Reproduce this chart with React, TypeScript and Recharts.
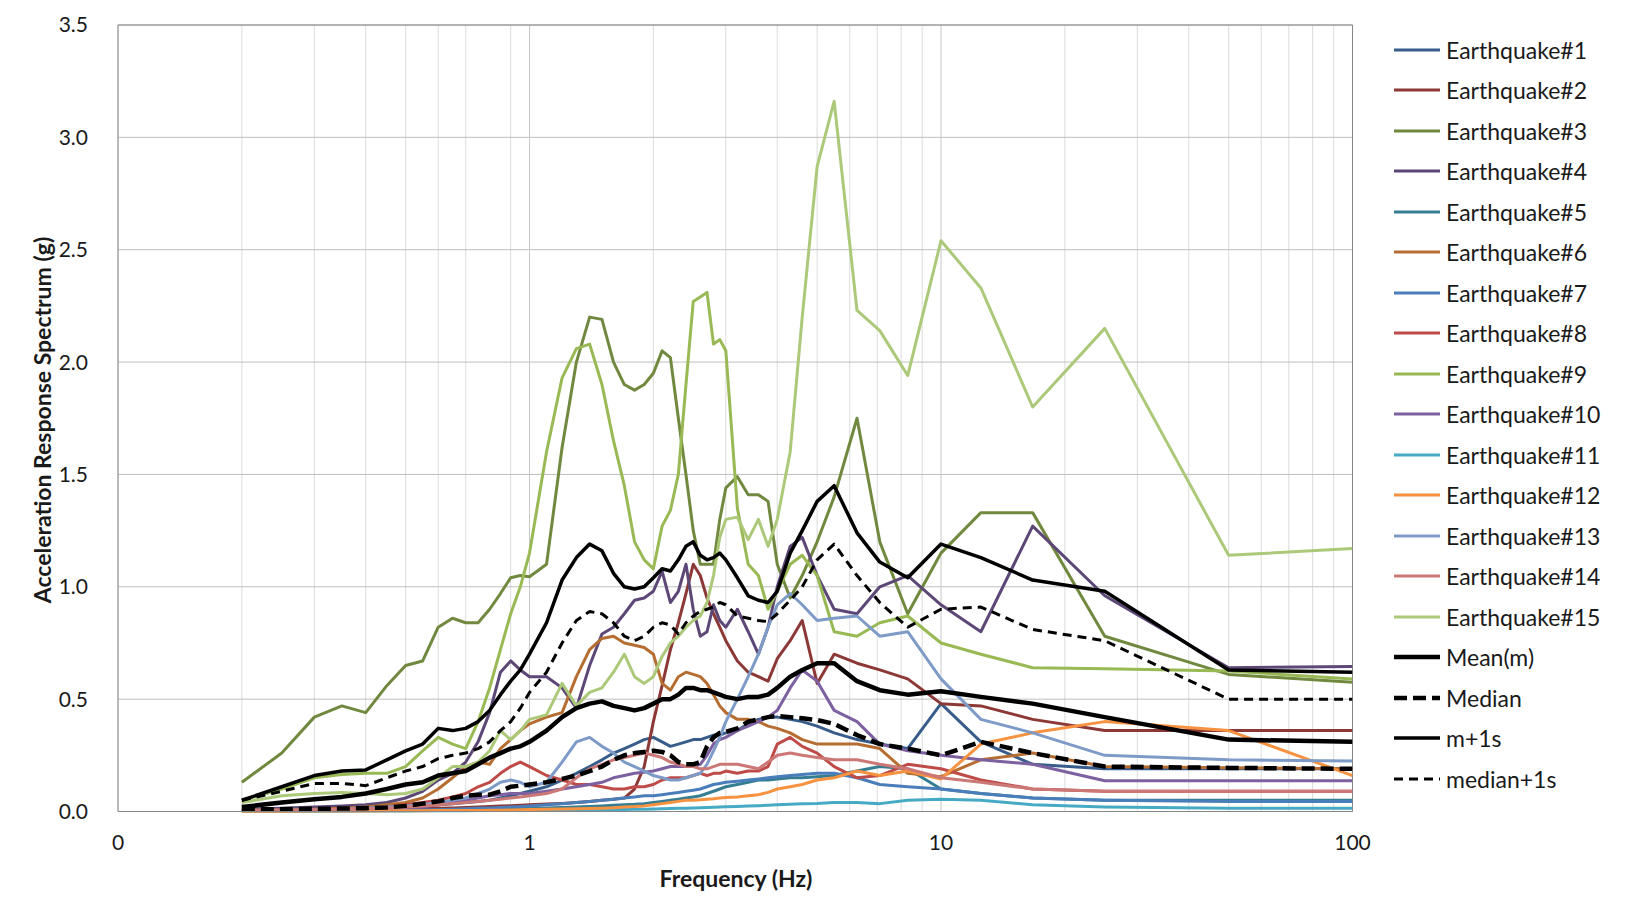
import {
  LineChart,
  Line,
  XAxis,
  YAxis,
  CartesianGrid,
  ReferenceLine,
  Legend,
} from "recharts";

// frequencies (Hz) shared by every spectrum
const FREQ = [
  0.2, 0.25, 0.3, 0.35, 0.4, 0.45, 0.5, 0.55, 0.6, 0.65,
  0.7, 0.75, 0.8, 0.85, 0.9, 0.95, 1.0, 1.1, 1.2, 1.3,
  1.4, 1.5, 1.6, 1.7, 1.8, 1.9, 2.0, 2.1, 2.2, 2.3,
  2.4, 2.5, 2.6, 2.7, 2.8, 2.9, 3.0, 3.2, 3.4, 3.6,
  3.8, 4.0, 4.3, 4.6, 5.0, 5.5, 6.25, 7.1, 8.3, 10,
  12.5, 16.7, 25, 50, 100,
];

const EQ1 = [
  0.005, 0.006, 0.008, 0.01, 0.012, 0.015, 0.02, 0.025, 0.03, 0.035,
  0.04, 0.045, 0.05, 0.06, 0.07, 0.08, 0.09, 0.11, 0.14, 0.17,
  0.2, 0.23, 0.26, 0.28, 0.3, 0.32, 0.33, 0.31, 0.29, 0.3,
  0.31, 0.32, 0.32, 0.33, 0.34, 0.34, 0.35, 0.36, 0.39, 0.41,
  0.42, 0.42, 0.41, 0.4, 0.38, 0.35, 0.32, 0.3, 0.28, 0.48,
  0.31, 0.21, 0.19, 0.19, 0.19,
];
const EQ2 = [
  0.003, 0.004, 0.005, 0.006, 0.007, 0.008, 0.01, 0.012, 0.014, 0.016,
  0.018, 0.02, 0.022, 0.024, 0.026, 0.028, 0.03, 0.033, 0.036, 0.04,
  0.045, 0.05, 0.055, 0.06, 0.1, 0.2, 0.4, 0.56, 0.72, 0.84,
  0.97, 1.1, 1.05, 0.95, 0.88, 0.82, 0.76, 0.67, 0.62, 0.6,
  0.58, 0.68, 0.76, 0.85, 0.57, 0.7, 0.66, 0.63, 0.59, 0.48,
  0.47, 0.41, 0.36, 0.36, 0.36,
];
const EQ3 = [
  0.13, 0.26, 0.42, 0.47, 0.44, 0.56, 0.65, 0.67, 0.82, 0.86,
  0.84, 0.84, 0.9, 0.97, 1.04, 1.05, 1.045, 1.1, 1.62, 2.0,
  2.2, 2.19, 2.0, 1.9, 1.875, 1.9, 1.95, 2.05, 2.02, 1.75,
  1.5, 1.25, 1.1, 1.1, 1.1, 1.3, 1.44, 1.49, 1.41, 1.41,
  1.38, 1.1, 0.95, 1.05, 1.2, 1.4, 1.75, 1.2, 0.88, 1.15,
  1.33, 1.33, 0.78, 0.61, 0.575,
];
const EQ4 = [
  0.01, 0.015, 0.02, 0.025, 0.03, 0.04, 0.06, 0.09, 0.14, 0.17,
  0.22, 0.31, 0.44, 0.62, 0.67, 0.63, 0.6, 0.6, 0.55, 0.46,
  0.65, 0.79, 0.82, 0.88, 0.94, 0.95, 0.98, 1.07, 0.93, 0.98,
  1.1, 0.9, 0.78, 0.8, 0.92, 0.85, 0.82, 0.9, 0.8, 0.7,
  0.82, 1.0, 1.18, 1.22, 1.05, 0.9, 0.88, 1.0, 1.05, 0.92,
  0.8, 1.27, 0.96, 0.64, 0.645,
];
const EQ5 = [
  0.002, 0.002, 0.003, 0.003, 0.004, 0.004, 0.005, 0.005, 0.006, 0.007,
  0.008, 0.009, 0.01, 0.011, 0.012, 0.013, 0.014, 0.016, 0.018, 0.02,
  0.022, 0.025, 0.028, 0.03, 0.032, 0.035, 0.04, 0.045, 0.05, 0.055,
  0.06, 0.065, 0.07, 0.08, 0.09, 0.1, 0.11, 0.12, 0.13, 0.14,
  0.14, 0.145, 0.15, 0.15, 0.155, 0.16, 0.18, 0.2, 0.19, 0.1,
  0.08, 0.06, 0.05, 0.05, 0.05,
];
const EQ6 = [
  0.005, 0.007, 0.01, 0.015, 0.02, 0.03, 0.04, 0.06, 0.1, 0.15,
  0.2, 0.22, 0.21, 0.28, 0.32, 0.36, 0.39, 0.42, 0.44, 0.6,
  0.72, 0.77, 0.78, 0.75, 0.74, 0.73, 0.7, 0.57, 0.54, 0.6,
  0.62, 0.61, 0.6, 0.57, 0.52, 0.47, 0.44, 0.41, 0.41, 0.4,
  0.38, 0.37, 0.35, 0.32, 0.3, 0.3, 0.3, 0.28, 0.17, 0.155,
  0.23, 0.26, 0.2, 0.195, 0.19,
];
const EQ7 = [
  0.002, 0.002, 0.003, 0.003, 0.004, 0.005, 0.006, 0.007, 0.008, 0.01,
  0.012, 0.014, 0.016, 0.018, 0.02, 0.022, 0.025, 0.03, 0.035, 0.04,
  0.045, 0.05, 0.055, 0.06, 0.065, 0.07, 0.07, 0.075, 0.08, 0.085,
  0.09, 0.095, 0.1, 0.11, 0.12, 0.125, 0.13, 0.135, 0.14, 0.145,
  0.15, 0.155, 0.16, 0.165, 0.17, 0.17, 0.15, 0.12, 0.11, 0.1,
  0.08, 0.06, 0.05, 0.045, 0.045,
];
const EQ8 = [
  0.005, 0.006, 0.008, 0.01, 0.015, 0.02, 0.03, 0.04, 0.05, 0.065,
  0.08, 0.11, 0.13, 0.17, 0.2, 0.22, 0.2, 0.16, 0.14, 0.12,
  0.12, 0.11, 0.1, 0.1, 0.11, 0.11, 0.12, 0.14, 0.15, 0.15,
  0.15, 0.16, 0.17, 0.16, 0.17, 0.17, 0.18, 0.17, 0.18, 0.18,
  0.2, 0.3, 0.33, 0.29, 0.26, 0.2, 0.15, 0.16, 0.21, 0.19,
  0.14, 0.1, 0.09, 0.09, 0.09,
];
const EQ9 = [
  0.05, 0.1, 0.15, 0.165, 0.17, 0.17, 0.2, 0.27, 0.33, 0.3,
  0.28, 0.4, 0.55, 0.72, 0.88, 1.0, 1.15, 1.6, 1.93, 2.06,
  2.08, 1.9, 1.65, 1.45, 1.2, 1.12, 1.08, 1.27, 1.34, 1.5,
  1.9, 2.27, 2.29, 2.31, 2.08, 2.1, 2.05, 1.35, 1.1, 1.05,
  0.9, 0.98, 1.1, 1.14, 1.05, 0.8, 0.78, 0.84, 0.87, 0.75,
  0.7, 0.64, 0.635, 0.625, 0.59,
];
const EQ10 = [
  0.003, 0.004, 0.005, 0.007, 0.01, 0.012, 0.015, 0.02, 0.03, 0.04,
  0.05, 0.06, 0.07, 0.075, 0.08, 0.08, 0.08, 0.09, 0.1, 0.11,
  0.12, 0.13, 0.15, 0.16, 0.17, 0.175, 0.18, 0.19, 0.2, 0.2,
  0.2, 0.2, 0.21, 0.25, 0.3, 0.32, 0.33, 0.36, 0.38, 0.4,
  0.42, 0.45, 0.55, 0.63, 0.58, 0.45, 0.4, 0.3, 0.27, 0.25,
  0.23, 0.21, 0.137, 0.137, 0.137,
];
const EQ11 = [
  0.001, 0.001, 0.001, 0.002, 0.002, 0.002, 0.002, 0.003, 0.003, 0.003,
  0.003, 0.004, 0.004, 0.004, 0.005, 0.005, 0.005, 0.006, 0.006, 0.007,
  0.007, 0.008, 0.008, 0.009, 0.01, 0.01, 0.011, 0.012, 0.013, 0.014,
  0.015, 0.016, 0.017, 0.018, 0.019, 0.02, 0.021, 0.022, 0.024, 0.026,
  0.028, 0.03, 0.032, 0.034, 0.036, 0.04, 0.04, 0.035, 0.05, 0.055,
  0.05, 0.03, 0.02, 0.015, 0.015,
];
const EQ12 = [
  0.001, 0.001, 0.002, 0.002, 0.002, 0.003, 0.003, 0.003, 0.004, 0.004,
  0.005, 0.005, 0.006, 0.006, 0.007, 0.008, 0.009, 0.01, 0.011, 0.012,
  0.013, 0.015, 0.017, 0.02, 0.022, 0.025, 0.03, 0.035, 0.04, 0.045,
  0.05, 0.05, 0.052, 0.055, 0.057, 0.06, 0.062, 0.065, 0.07, 0.075,
  0.085, 0.1, 0.11, 0.12, 0.14, 0.15, 0.18, 0.16, 0.18, 0.145,
  0.3, 0.35, 0.4, 0.36, 0.16,
];
const EQ13 = [
  0.005, 0.006, 0.008, 0.01, 0.015, 0.02, 0.025, 0.03, 0.04, 0.05,
  0.06, 0.08, 0.1, 0.13, 0.14, 0.13, 0.11, 0.13, 0.22, 0.31,
  0.33, 0.29, 0.26, 0.22, 0.2, 0.18, 0.16, 0.15, 0.14, 0.14,
  0.15, 0.16, 0.17, 0.21, 0.27, 0.33, 0.4, 0.5, 0.6, 0.7,
  0.82, 0.92, 0.97, 0.92, 0.85, 0.86, 0.87, 0.78, 0.8, 0.59,
  0.41, 0.35, 0.25, 0.23, 0.225,
];
const EQ14 = [
  0.005, 0.006, 0.008, 0.01, 0.012, 0.015, 0.02, 0.025, 0.03, 0.035,
  0.04, 0.045, 0.05, 0.055, 0.06, 0.065, 0.07, 0.08, 0.1, 0.15,
  0.19, 0.21, 0.23, 0.24, 0.25, 0.26, 0.25, 0.24, 0.22, 0.21,
  0.2, 0.2, 0.19, 0.19, 0.2, 0.21, 0.21, 0.21, 0.2, 0.19,
  0.22, 0.25, 0.26, 0.25, 0.24, 0.23, 0.23, 0.21, 0.19, 0.15,
  0.13, 0.1, 0.09, 0.09, 0.09,
];
const EQ15 = [
  0.04, 0.07, 0.08, 0.085, 0.08, 0.075, 0.08, 0.1, 0.15, 0.2,
  0.2, 0.22, 0.27, 0.36, 0.32, 0.36, 0.41, 0.43, 0.57, 0.47,
  0.53, 0.55, 0.62, 0.7, 0.6, 0.57, 0.6, 0.69, 0.75, 0.78,
  0.82, 0.85, 0.87, 0.93, 1.05, 1.22, 1.3, 1.31, 1.21, 1.3,
  1.18, 1.3, 1.6, 2.2, 2.87, 3.16, 2.23, 2.14, 1.94, 2.54,
  2.33, 1.8, 2.15, 1.14, 1.17,
];
const MEAN = [
  0.02, 0.04, 0.055, 0.065, 0.08, 0.1, 0.12, 0.13, 0.16, 0.17,
  0.18, 0.21, 0.24, 0.26, 0.28, 0.29, 0.31, 0.36, 0.42, 0.46,
  0.48, 0.49, 0.47, 0.46, 0.45, 0.46, 0.48, 0.5, 0.5, 0.52,
  0.55, 0.55, 0.54, 0.54, 0.53, 0.52, 0.51, 0.5, 0.51, 0.51,
  0.52, 0.55, 0.6, 0.63, 0.66, 0.66, 0.58, 0.54, 0.52, 0.535,
  0.51, 0.48, 0.42, 0.32, 0.31,
];
const MEDIAN = [
  0.01, 0.01, 0.012, 0.013, 0.015, 0.018, 0.025, 0.035, 0.045, 0.06,
  0.07, 0.075, 0.075, 0.09, 0.11, 0.115, 0.12, 0.13, 0.145, 0.16,
  0.18, 0.2, 0.23, 0.25, 0.26, 0.265, 0.27, 0.265, 0.25, 0.22,
  0.21, 0.21, 0.22, 0.29, 0.33, 0.35, 0.355, 0.37, 0.4, 0.41,
  0.42, 0.425, 0.42, 0.415, 0.407, 0.39, 0.34, 0.3, 0.28, 0.25,
  0.31, 0.26, 0.2, 0.194, 0.19,
];
const MEAN_1S = [
  0.05, 0.11, 0.16, 0.18, 0.185, 0.23, 0.27, 0.3, 0.37, 0.36,
  0.37, 0.4, 0.45, 0.52, 0.58, 0.63, 0.7, 0.84, 1.03, 1.13,
  1.19, 1.16, 1.06, 1.0, 0.99, 1.0, 1.04, 1.08, 1.07, 1.12,
  1.18, 1.2, 1.14, 1.12, 1.13, 1.15, 1.12, 1.04, 0.96, 0.94,
  0.93, 0.98, 1.15, 1.25, 1.38, 1.45, 1.24, 1.11, 1.04, 1.19,
  1.13, 1.03, 0.98, 0.63, 0.62,
];
const MEDIAN_1S = [
  0.05, 0.09, 0.125, 0.125, 0.115, 0.15, 0.18, 0.2, 0.235, 0.25,
  0.26, 0.28, 0.31, 0.36, 0.4, 0.46, 0.53, 0.62, 0.75, 0.85,
  0.89, 0.88, 0.84, 0.78, 0.76, 0.78, 0.82, 0.84, 0.83, 0.79,
  0.84, 0.87, 0.89, 0.9, 0.91, 0.93, 0.92, 0.87, 0.86, 0.85,
  0.845, 0.88, 0.94, 1.0, 1.12, 1.19, 1.05, 0.93, 0.82, 0.9,
  0.91, 0.81, 0.76, 0.5, 0.5,
];

const X_TICKS = [0.1, 1, 10, 100];
const MINOR_TICKS = [
  0.2, 0.3, 0.4, 0.5, 0.6, 0.7, 0.8, 0.9,
  2, 3, 4, 5, 6, 7, 8, 9,
  20, 30, 40, 50, 60, 70, 80, 90,
];
const Y_TICKS = [0, 0.5, 1, 1.5, 2, 2.5, 3, 3.5];

const FONT = "Lato, 'Open Sans', sans-serif";

type Series = {
  key: string;
  name: string;
  values: number[];
  color: string;
  width: number;
  dash?: string;
};

const SERIES: Series[] = [
  { key: "eq1", name: "Earthquake#1", values: EQ1, color: "#385d8a", width: 3 },
  { key: "eq2", name: "Earthquake#2", values: EQ2, color: "#8c3836", width: 3 },
  { key: "eq3", name: "Earthquake#3", values: EQ3, color: "#71893f", width: 3 },
  { key: "eq4", name: "Earthquake#4", values: EQ4, color: "#5c4776", width: 3 },
  { key: "eq5", name: "Earthquake#5", values: EQ5, color: "#357d91", width: 3 },
  { key: "eq6", name: "Earthquake#6", values: EQ6, color: "#b66d31", width: 3 },
  { key: "eq7", name: "Earthquake#7", values: EQ7, color: "#4a7ebb", width: 3 },
  { key: "eq8", name: "Earthquake#8", values: EQ8, color: "#be4b48", width: 3 },
  { key: "eq9", name: "Earthquake#9", values: EQ9, color: "#98b954", width: 3 },
  { key: "eq10", name: "Earthquake#10", values: EQ10, color: "#7d60a0", width: 3 },
  { key: "eq11", name: "Earthquake#11", values: EQ11, color: "#46aac5", width: 3 },
  { key: "eq12", name: "Earthquake#12", values: EQ12, color: "#f69240", width: 3 },
  { key: "eq13", name: "Earthquake#13", values: EQ13, color: "#7e9bc8", width: 3 },
  { key: "eq14", name: "Earthquake#14", values: EQ14, color: "#cb7876", width: 3 },
  { key: "eq15", name: "Earthquake#15", values: EQ15, color: "#acc97a", width: 3 },
  { key: "mean", name: "Mean(m)", values: MEAN, color: "#000000", width: 4.5 },
  { key: "median", name: "Median", values: MEDIAN, color: "#000000", width: 4.5, dash: "13 6" },
  { key: "m1s", name: "m+1s", values: MEAN_1S, color: "#000000", width: 3.5 },
  { key: "med1s", name: "median+1s", values: MEDIAN_1S, color: "#000000", width: 3, dash: "9 6" },
];

const rows = FREQ.map((f, i) => {
  const row: Record<string, number> = { f };
  SERIES.forEach((s) => {
    row[s.key] = s.values[i];
  });
  return row;
});

// legend drawn from the series list, one row per line
const renderLegend = () => (
  <ul style={{ listStyle: "none", margin: 0, padding: 0 }}>
    {SERIES.map((s) => (
      <li
        key={s.key}
        style={{ height: 40.5, display: "flex", alignItems: "center" }}
      >
        <svg width={48} height={10}>
          <line
            x1={1}
            y1={5}
            x2={47}
            y2={5}
            stroke={s.color}
            strokeWidth={s.width}
            strokeDasharray={s.dash}
          />
        </svg>
        <span
          style={{
            marginLeft: 5,
            fontSize: 23,
            color: "#1a1a1a",
            fontFamily: FONT,
            whiteSpace: "nowrap",
          }}
        >
          {s.name}
        </span>
      </li>
    ))}
  </ul>
);

export default function App() {
  return (
    <div
      style={{
        position: "relative",
        width: 1625,
        height: 917,
        fontFamily: FONT,
        background: "#fff",
      }}
    >
      <style>{"body{margin:0}"}</style>
      <LineChart
        width={1625}
        height={917}
        data={rows}
        margin={{ top: 25, right: 272.5, bottom: 65.5, left: 58 }}
      >
        <XAxis
          xAxisId="minor"
          dataKey="f"
          type="number"
          scale="log"
          domain={[0.1, 100]}
          ticks={MINOR_TICKS}
          allowDataOverflow
          hide
        />
        <CartesianGrid xAxisId="minor" horizontal={false} stroke="#dcdcdc" strokeWidth={1} />
        <CartesianGrid vertical={false} stroke="#bfbfbf" strokeWidth={1} />
        <XAxis
          dataKey="f"
          type="number"
          scale="log"
          domain={[0.1, 100]}
          ticks={X_TICKS}
          allowDataOverflow
          height={40}
          stroke="#868686"
          tickLine={false}
          tickSize={6}
          tickMargin={18}
          tick={{ fill: "#1a1a1a", fontSize: 21, fontFamily: FONT }}
          tickFormatter={(v: number) => (v < 1 ? "0" : String(v))}
        />
        <YAxis
          type="number"
          domain={[0, 3.5]}
          ticks={Y_TICKS}
          width={60}
          stroke="#868686"
          tickLine={false}
          tickSize={6}
          tickMargin={24}
          tick={{ fill: "#1a1a1a", fontSize: 21, fontFamily: FONT }}
          tickFormatter={(v: number) => v.toFixed(1)}
        />
        <ReferenceLine x={1} stroke="#c8c8c8" />
        <ReferenceLine x={10} stroke="#c8c8c8" />
        <ReferenceLine x={100} stroke="#868686" />
        <ReferenceLine y={3.5} stroke="#868686" />
        {SERIES.map((s) => (
          <Line
            key={s.key}
            type="linear"
            dataKey={s.key}
            name={s.name}
            stroke={s.color}
            strokeWidth={s.width}
            strokeDasharray={s.dash}
            strokeLinejoin="round"
            dot={false}
            activeDot={false}
            isAnimationActive={false}
          />
        ))}
        <Legend
          layout="vertical"
          align="center"
          verticalAlign="middle"
          wrapperStyle={{ left: 1393, top: 29.5, width: 232 }}
          content={renderLegend}
        />
      </LineChart>
      <div
        style={{
          position: "absolute",
          left: 736,
          top: 878,
          transform: "translate(-50%, -50%)",
          fontSize: 23,
          fontWeight: 700,
          color: "#1a1a1a",
          whiteSpace: "nowrap",
        }}
      >
        Frequency (Hz)
      </div>
      <div
        style={{
          position: "absolute",
          left: 41.5,
          top: 420,
          transform: "translate(-50%, -50%) rotate(-90deg)",
          fontSize: 23,
          fontWeight: 700,
          color: "#1a1a1a",
          whiteSpace: "nowrap",
        }}
      >
        Acceleration Response Spectrum (g)
      </div>
    </div>
  );
}
